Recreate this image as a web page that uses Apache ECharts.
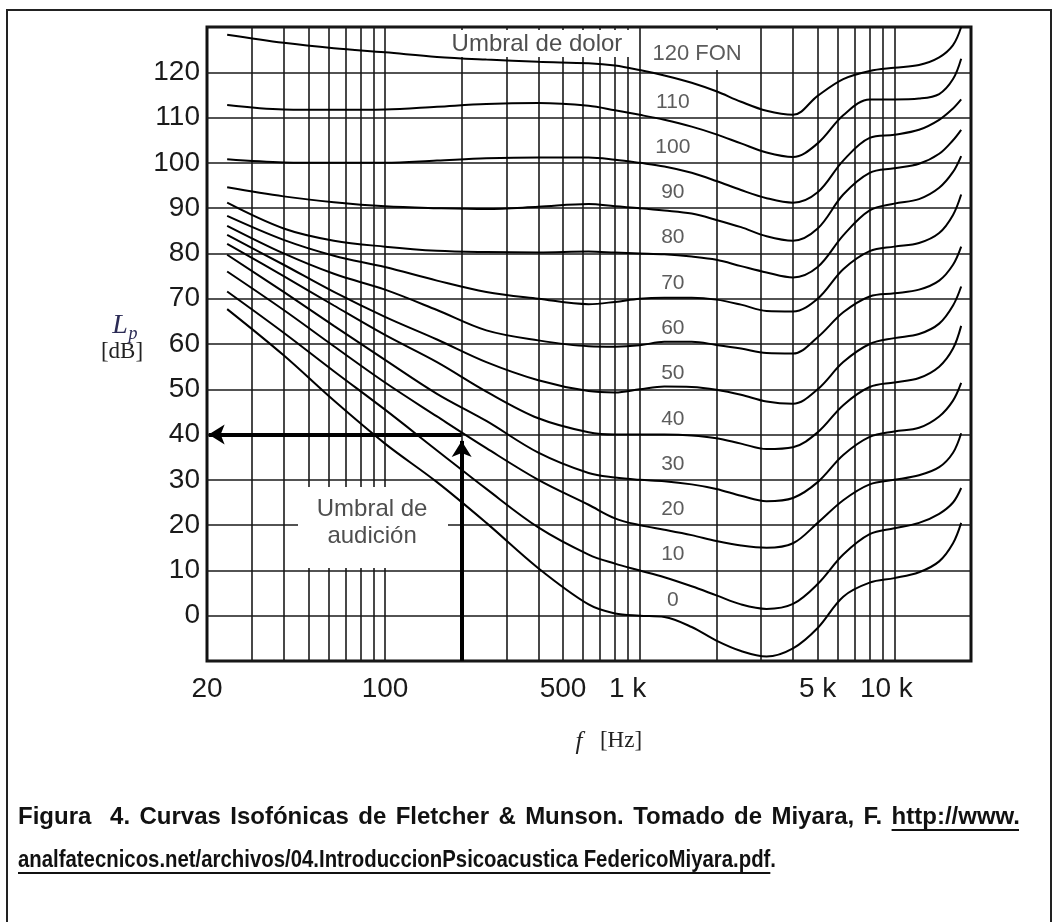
<!DOCTYPE html>
<html><head><meta charset="utf-8">
<script src="https://cdn.jsdelivr.net/npm/echarts@6/dist/echarts.min.js"></script>
<style>html,body{margin:0;padding:0;background:#fff}#chart{width:1055px;height:922px}</style>
</head><body><div id="chart"></div>
<script>
// ---------------- DATA ----------------
const freqs = [24, 40, 63, 100, 160, 250, 400, 630, 800, 1000, 1250, 1600, 2000, 2500, 3150, 4000, 5000, 6300, 8000, 10000, 12500, 15000, 17000, 18300];
const phon120 = [128.3, 126.5, 125.3, 124.4, 123.4, 122.8, 122.3, 122.0, 121.5, 120.5, 119.3, 117.7, 115.8, 113.5, 111.5, 110.6, 114.8, 118.5, 120.3, 121.0, 121.6, 123.3, 126.0, 130.0];
const phon110 = [112.8, 111.8, 111.7, 111.8, 112.4, 113.0, 113.2, 112.6, 111.6, 110.6, 109.5, 108.0, 106.3, 104.3, 102.3, 101.3, 104.3, 110.5, 114.0, 114.0, 114.2, 115.2, 118.5, 123.0];
const phon100 = [100.8, 100.1, 100.0, 100.0, 100.5, 101.0, 101.2, 101.2, 100.7, 100.0, 99.2, 97.8, 96.0, 94.0, 92.2, 91.2, 93.5, 100.5, 105.5, 106.2, 107.3, 109.5, 112.0, 114.0];
const phon90 = [94.6, 92.6, 91.3, 90.4, 90.0, 89.8, 90.3, 90.9, 90.4, 90.0, 89.5, 88.8, 87.4, 85.8, 83.8, 82.8, 85.5, 93.0, 97.8, 98.8, 99.8, 102.0, 105.0, 107.3];
const phon80 = [91.2, 85.5, 82.8, 81.5, 80.6, 80.3, 80.2, 80.4, 80.2, 80.0, 79.8, 79.3, 78.6, 77.2, 75.8, 74.7, 77.0, 84.0, 89.5, 91.0, 92.0, 94.5, 98.0, 101.5];
const phon70 = [88.3, 83.0, 79.5, 77.0, 74.0, 71.5, 70.0, 68.8, 69.3, 70.0, 70.2, 70.2, 69.8, 68.7, 67.3, 67.2, 70.0, 76.5, 80.5, 81.5, 82.3, 84.5, 88.5, 93.0];
const phon60 = [86.1, 80.0, 75.5, 72.0, 67.5, 63.0, 60.8, 59.5, 59.4, 59.7, 60.5, 60.5, 59.8, 59.0, 58.0, 57.9, 61.5, 67.0, 70.5, 71.2, 72.0, 74.0, 77.5, 81.5];
const phon50 = [84.1, 77.5, 71.5, 66.0, 61.0, 56.0, 52.0, 49.6, 49.3, 50.0, 50.6, 50.5, 49.9, 48.8, 47.3, 46.8, 50.0, 56.0, 60.0, 61.3, 62.2, 64.5, 68.5, 72.7];
const phon40 = [82.1, 75.0, 68.5, 62.0, 56.0, 49.5, 43.6, 40.5, 40.0, 40.0, 40.0, 39.8, 39.2, 38.0, 36.8, 37.2, 40.5, 46.5, 50.5, 51.5, 52.5, 55.0, 59.0, 64.0];
const phon30 = [79.7, 71.5, 64.0, 56.5, 49.0, 43.0, 36.0, 31.5, 30.5, 30.0, 29.7, 29.0, 28.0, 26.5, 25.3, 26.0, 29.5, 35.5, 39.5, 40.7, 41.5, 44.0, 47.5, 51.4];
const phon20 = [76.0, 67.5, 59.5, 51.5, 44.0, 37.0, 30.0, 24.5, 21.5, 20.0, 19.0, 17.8, 16.5, 15.5, 15.0, 16.0, 20.5, 25.5, 29.0, 30.0, 31.0, 32.8, 36.0, 40.3];
const phon10 = [71.6, 62.5, 54.0, 45.5, 36.5, 28.0, 19.5, 13.5, 11.5, 10.0, 8.5, 6.5, 4.5, 2.5, 1.5, 2.6, 7.0, 13.5, 18.0, 19.3, 20.5, 22.5, 25.0, 28.2];
const phon0 = [67.7, 57.5, 47.5, 38.0, 29.5, 20.5, 10.5, 2.5, 0.5, 0.0, -0.3, -2.5, -5.5, -7.8, -9.0, -7.2, -2.7, 4.2, 7.3, 8.3, 9.6, 12.0, 16.0, 20.5];

const curveNames = ['0', '10', '20', '30', '40', '50', '60', '70', '80', '90', '100', '110', '120'];
const curveValues = [phon0, phon10, phon20, phon30, phon40, phon50, phon60, phon70, phon80, phon90, phon100, phon110, phon120];

const gridFreqs = [30, 40, 50, 60, 70, 80, 90, 100, 200, 300, 400, 500, 600, 700, 800, 900, 1000, 2000, 3000, 4000, 5000, 6000, 7000, 8000, 9000, 10000];
const xTickValues = [20, 100, 500, 1000, 5000, 10000];
const xTickLabels = ['20', '100', '500', '1 k', '5 k', '10 k'];
const yTickValues = [0, 10, 20, 30, 40, 50, 60, 70, 80, 90, 100, 110, 120];

const curveLabelTexts = ['110', '100', '90', '80', '70', '60', '50', '40', '30', '20', '10', '0'];
const curveLabelLevels = [110, 100, 90, 80, 70, 60, 50, 40, 30, 20, 10, 0];
const labelFreq = 1350;

const arrowFreq = 200;   // Hz
const arrowLevel = 40;   // dB

const captionLine1 = 'Figura  4. Curvas Isofónicas de Fletcher & Munson. Tomado de Miyara, F. http://www.';
const captionLine2 = 'analfatecnicos.net/archivos/04.IntroduccionPsicoacustica FedericoMiyara.pdf.';
const captionLink1 = 'http://www.';
const captionLink2 = 'analfatecnicos.net/archivos/04.IntroduccionPsicoacustica FedericoMiyara.pdf';

// ---------------- CHART ----------------
const SANS = '"Liberation Sans", Arial, Helvetica, sans-serif';
const SERIF = '"Liberation Serif", "Times New Roman", serif';
const chart = echarts.init(document.getElementById('chart'), null, {renderer: 'canvas'});

const series = [];
// vertical grid lines
series.push({
  type: 'line', data: [[20, -10]], symbol: 'none', lineStyle: {width: 0}, silent: true, z: 1,
  markLine: {
    silent: true, symbol: 'none', animation: false, z: 1,
    label: {show: false},
    lineStyle: {color: '#1a1a1a', width: 1.6, type: 'solid'},
    emphasis: {disabled: true},
    data: gridFreqs.map(f => ({xAxis: f}))
  }
});
curveValues.forEach((vals, k) => {
  series.push({
    type: 'line', name: curveNames[k] + ' fon',
    data: freqs.map((f, i) => [f, vals[i]]),
    smooth: 0.35, symbol: 'none', silent: true, z: 10,
    lineStyle: {color: '#000', width: 2}
  });
});
// arrows
series.push({
  type: 'line', data: [[20, -10]], symbol: 'none', lineStyle: {width: 0}, silent: true, z: 12,
  markLine: {
    silent: true, animation: false, z: 12,
    symbol: ['none', 'arrow'], symbolSize: [15, 16],
    label: {show: false},
    lineStyle: {color: '#000', width: 4, type: 'solid'},
    emphasis: {disabled: true},
    data: [
      [{coord: [arrowFreq, arrowLevel]}, {coord: [20.3, arrowLevel]}],
      [{coord: [arrowFreq, -10]}, {coord: [arrowFreq, 38.6]}]
    ]
  }
});
// curve labels
series.push({
  type: 'scatter', symbolSize: 0, silent: true, z: 15,
  data: curveLabelLevels.map(l => [labelFreq, l + 3.5]),
  label: {show: true, position: 'inside', formatter: p => curveLabelTexts[p.dataIndex],
          color: '#333', fontSize: 21, fontFamily: SANS}
});
series.push({
  type: 'scatter', symbolSize: 0, silent: true, z: 15,
  data: [[1680, 124.1]],
  label: {show: true, position: 'inside', formatter: '120 FON', color: '#333', fontSize: 22, fontFamily: SANS}
});
series.push({
  type: 'scatter', symbolSize: 0, silent: true, z: 15,
  data: [[395, 126.1]],
  label: {show: true, position: 'inside', formatter: 'Umbral de dolor', color: '#222', fontSize: 24, fontFamily: SANS}
});
series.push({
  type: 'scatter', symbolSize: 0, silent: true, z: 15,
  data: [[89, 20.4]],
  label: {show: true, position: 'inside', formatter: 'Umbral de\naudición', color: '#222', fontSize: 24,
          lineHeight: 27, fontFamily: SANS}
});

// ---------- caption: first line justified (word gaps), second line natural ----------
const ctx = document.createElement('canvas').getContext('2d');
const capFont = 'bold 24px ' + SANS;
ctx.font = capFont;
const capLeft = 18, capRight = 1020, line2Width = 758;
const capScale2 = line2Width / ctx.measureText(captionLine2).width;
const capScale1 = Math.min(1, (capRight - capLeft) / ctx.measureText(captionLine1).width);
const mw1 = s => ctx.measureText(s).width * capScale1;
const mw2 = s => ctx.measureText(s).width * capScale2;
const words1 = captionLine1.split(' ');
const natural1 = words1.reduce((a, w) => a + mw1(w), 0);
const gapW = (capRight - capLeft - natural1) / (words1.length - 1);
const capStyle = (t) => ({text: t, font: capFont, fill: '#111', align: 'left', verticalAlign: 'middle', textAlign: 'left', textVerticalAlign: 'middle'});

const graphic = [
  {type: 'rect', z: 0, shape: {x: 7, y: 10, width: 1044, height: 940}, style: {fill: 'none', stroke: '#222', lineWidth: 2}},
  // white masks behind annotations
  {type: 'rect', z: 5, shape: {x: 445, y: 30, width: 188, height: 27}, style: {fill: '#fff'}},
  {type: 'rect', z: 5, shape: {x: 641, y: 30, width: 115, height: 40}, style: {fill: '#fff'}},
  {type: 'rect', z: 5, shape: {x: 298, y: 487, width: 150, height: 81}, style: {fill: '#fff'}},
  // axis titles
  {type: 'text', z: 20, x: 120, y: 326, style: {text: 'L', font: 'italic 28px ' + SERIF, fill: '#2b2b55', align: 'center', verticalAlign: 'middle', textAlign: 'center', textVerticalAlign: 'middle'}},
  {type: 'text', z: 20, x: 133, y: 334, style: {text: 'p', font: 'italic 18px ' + SERIF, fill: '#2b2b55', align: 'center', verticalAlign: 'middle', textAlign: 'center', textVerticalAlign: 'middle'}},
  {type: 'text', z: 20, x: 122, y: 352, style: {text: '[dB]', font: '23px ' + SERIF, fill: '#222', align: 'center', verticalAlign: 'middle', textAlign: 'center', textVerticalAlign: 'middle'}},
  {type: 'text', z: 20, x: 579, y: 742, style: {text: 'f', font: 'italic 25px ' + SERIF, fill: '#222', align: 'center', verticalAlign: 'middle', textAlign: 'center', textVerticalAlign: 'middle'}},
  {type: 'text', z: 20, x: 621, y: 741, style: {text: '[Hz]', font: '23px ' + SERIF, fill: '#222', align: 'center', verticalAlign: 'middle', textAlign: 'center', textVerticalAlign: 'middle'}}
];
let cx = capLeft;
words1.forEach((w) => {
  if (w.length) {
    graphic.push({type: 'text', z: 20, x: cx, y: 817, scaleX: capScale1, originX: 0, style: capStyle(w)});
    if (w === captionLink1) {
      graphic.push({type: 'line', z: 20, shape: {x1: cx, y1: 830, x2: cx + mw1(w) - 1, y2: 830}, style: {stroke: '#111', lineWidth: 2}});
    }
  }
  cx += mw1(w) + gapW;
});
graphic.push({type: 'text', z: 20, x: capLeft, y: 860, scaleX: capScale2, originX: 0, style: capStyle(captionLine2)});
graphic.push({type: 'line', z: 20, shape: {x1: capLeft, y1: 873, x2: capLeft + mw2(captionLink2), y2: 873}, style: {stroke: '#111', lineWidth: 2}});

const labelShift = {'1 k': 24, '10 k': 16};
chart.setOption({
  animation: false,
  backgroundColor: '#fff',
  grid: {left: 207, right: 84, top: 27, bottom: 261, show: true, borderColor: '#111', borderWidth: 3, backgroundColor: 'transparent'},
  xAxis: {
    type: 'log', logBase: 10, min: 20, max: 20000,
    axisLine: {show: false}, axisTick: {show: false}, splitLine: {show: false},
    axisLabel: {
      customValues: xTickValues, showMinLabel: true, showMaxLabel: true,
      formatter: v => {
        const i = xTickValues.indexOf(Math.round(v));
        if (i < 0) return '';
        const t = xTickLabels[i];
        return labelShift[t] ? '{s' + labelShift[t] + '|' + t + '}' : t;
      },
      rich: {
        s24: {padding: [0, 24, 0, 0], fontSize: 28, fontFamily: SANS, color: '#1a1a1a'},
        s16: {padding: [0, 16, 0, 0], fontSize: 28, fontFamily: SANS, color: '#1a1a1a'}
      },
      color: '#1a1a1a', fontSize: 28, fontFamily: SANS, margin: 14
    }
  },
  yAxis: {
    type: 'value', min: -10, max: 130, interval: 10,
    axisLine: {show: false}, axisTick: {show: false},
    splitLine: {show: true, lineStyle: {color: '#1a1a1a', width: 1.6}},
    axisLabel: {
      formatter: v => (yTickValues.indexOf(v) >= 0 ? String(v) : ''),
      color: '#1a1a1a', fontSize: 28, fontFamily: SANS, margin: 7
    }
  },
  series: series,
  graphic: graphic
});
</script>
</body></html>
